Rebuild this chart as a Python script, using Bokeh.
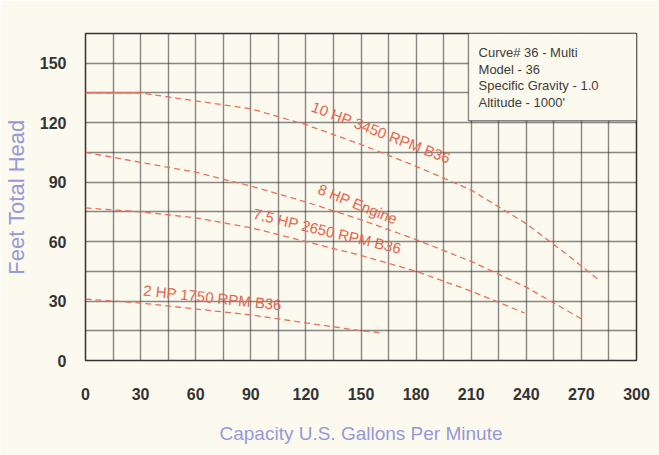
import math
from bokeh.plotting import figure
from bokeh.models import SingleIntervalTicker, Range1d
from bokeh.core.properties import value
from bokeh.embed import file_html
from bokeh.resources import INLINE

# ---- data ----
gpm_10hp = [0, 30, 60, 90, 120, 150, 180, 210, 240, 260, 279]
head_10hp = [135, 135, 131, 127, 119, 109, 98, 86, 69, 55, 41]

gpm_8hp = [0, 30, 60, 90, 120, 150, 180, 210, 240, 270]
head_8hp = [105, 100, 95, 88, 80, 71, 61, 50, 37, 21]

gpm_75hp = [0, 30, 60, 90, 120, 150, 180, 210, 239]
head_75hp = [77, 75, 72, 67, 60, 53, 45, 35, 24]

gpm_2hp = [0, 30, 60, 90, 120, 150, 161]
head_2hp = [31, 29, 26, 23, 19, 15, 14]

curve_labels = ["10 HP 3450 RPM B36", "8 HP Engine", "7.5 HP 2650 RPM B36", "2 HP 1750 RPM B36"]
label_x = [123.5, 127, 91.5, 31.5]
label_y = [128.5, 87.0, 74.3, 35.6]
label_angle_deg = [-21, -22, -13.5, -6.2]

info_lines = ["Curve# 36 - Multi", "Model - 36", "Specific Gravity - 1.0", "Altitude - 1000'"]
info_x = 214
info_top = 155.4
info_step = 8.4
info_box = dict(left=208.5, right=300, bottom=121, top=165)

x_ticks_interval = 30
y_ticks_interval = 30
grid_interval = 15

BG = "#fcf9ef"
CURVE = "#e8705c"
LABEL = "#e4654c"
AXIS_LBL = "#959ad8"

p = figure(width=659, height=455, output_backend="svg", toolbar_location=None,
           x_range=Range1d(0, 300), y_range=Range1d(0, 165),
           min_border_left=85, min_border_right=23, min_border_top=33, min_border_bottom=95)
p.background_fill_color = BG
p.border_fill_color = BG
p.outline_line_color = "#333333"
p.outline_line_width = 1.5

# grid
p.xgrid.ticker = SingleIntervalTicker(interval=grid_interval)
p.ygrid.ticker = SingleIntervalTicker(interval=grid_interval)
for g in (p.xgrid, p.ygrid):
    g.grid_line_color = "#2a2a2a"
    g.grid_line_alpha = 0.55
    g.grid_line_width = 1.4

# axes
p.xaxis.ticker = SingleIntervalTicker(interval=x_ticks_interval)
p.yaxis.ticker = SingleIntervalTicker(interval=y_ticks_interval)
for ax in (p.xaxis, p.yaxis):
    ax.axis_line_color = None
    ax.major_tick_line_color = None
    ax.minor_tick_line_color = None
    ax.major_label_text_font = "Liberation Sans"
    ax.major_label_text_font_style = "bold"
    ax.major_label_text_font_size = "16px"
    ax.major_label_text_color = "#333333"
    ax.axis_label_text_font = "Liberation Sans"
    ax.axis_label_text_font_style = "normal"
    ax.axis_label_text_color = AXIS_LBL
p.xaxis.axis_label_text_font_size = "19px"
p.yaxis.axis_label_text_font_size = "22px"
p.xaxis.major_label_standoff = 21
p.yaxis.major_label_standoff = 13
p.xaxis.axis_label = "Capacity U.S. Gallons Per Minute"
p.yaxis.axis_label = "Feet Total Head"
p.xaxis.axis_label_standoff = 20
p.yaxis.axis_label_standoff = 8

# info box (masks the grid)
p.quad(left=[info_box["left"]], right=[info_box["right"]], bottom=[info_box["bottom"]],
       top=[info_box["top"]], fill_color=BG, line_color=None)
p.segment(x0=[info_box["left"], info_box["left"]], y0=[info_box["top"], info_box["bottom"]],
          x1=[info_box["left"], info_box["right"]], y1=[info_box["bottom"], info_box["bottom"]],
          line_color="#2a2a2a", line_alpha=0.55, line_width=1.4)

# curves
p.line(gpm_10hp[:2], head_10hp[:2], line_color=CURVE, line_width=1.3)
for xs, ys in [(gpm_10hp, head_10hp), (gpm_8hp, head_8hp), (gpm_75hp, head_75hp), (gpm_2hp, head_2hp)]:
    p.line(xs, ys, line_color=CURVE, line_width=1.3, line_dash="6 4")

p.text(x=label_x, y=label_y, text=curve_labels,
       angle=[math.radians(a) for a in label_angle_deg],
       text_font=value("Liberation Sans"), text_font_size="15px", text_color=LABEL,
       text_align="left", text_baseline="middle")

p.text(x=[info_x] * len(info_lines), y=[info_top - i * info_step for i in range(len(info_lines))],
       text=info_lines, text_font=value("Liberation Sans"), text_font_size="13px",
       text_color="#3c3c3c", text_align="left", text_baseline="middle")

open("out.html", "w").write(file_html(p, INLINE))
